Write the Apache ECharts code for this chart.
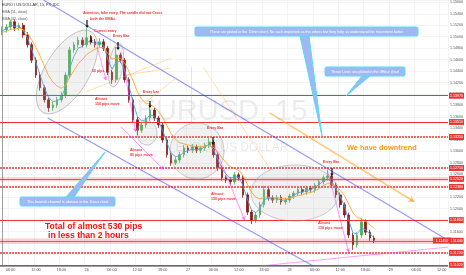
<!DOCTYPE html>
<html><head><meta charset="utf-8">
<script src="https://cdn.jsdelivr.net/npm/echarts@6/dist/echarts.min.js"></script>
<style>html,body{margin:0;padding:0;background:#fff}#c{width:466px;height:275px}</style>
</head><body><div id="c"></div>
<script>
// ---- DATA (hourly bars, EUR/USD) ----
const startDay = 25, startHour = 4, numSlots = 106;
const openP = [1.1508,1.1512,1.1517,1.1526,1.1515,1.1520,1.1503,1.1486,1.1459,1.1433,
 1.1411,1.1390,1.1376,1.1381,1.1390,1.1398,1.1433,1.1477,1.1486,1.1494,
 1.1486,1.1498,1.1491,1.1486,1.1491,1.1480,1.1438,1.1425,1.1468,1.1459,
 1.1425,1.1390,1.1355,1.1337,1.1346,1.1358,1.1372,1.1358,1.1346,1.1320,
 1.1294,1.1280,1.1285,1.1294,1.1306,1.1302,1.1308,1.1302,1.1306,1.1311,
 1.1316,1.1294,1.1271,1.1254,1.1250,1.1247,1.1259,1.1254,1.1224,1.1194,
 1.1180,1.1189,1.1207,1.1233,1.1219,1.1215,1.1220,1.1212,1.1215,1.1222,
 1.1227,1.1233,1.1229,1.1236,1.1233,1.1241,1.1247,1.1254,1.1257,1.1241,
 1.1224,1.1207,1.1189,1.1154,1.1137,1.1154,1.1177,1.1159,1.1149];
const closeP = [1.1512,1.1517,1.1526,1.1515,1.1520,1.1503,1.1486,1.1459,1.1433,1.1411,
 1.1390,1.1376,1.1381,1.1390,1.1398,1.1433,1.1477,1.1486,1.1494,1.1486,
 1.1498,1.1491,1.1486,1.1491,1.1480,1.1438,1.1425,1.1468,1.1459,1.1425,
 1.1390,1.1355,1.1337,1.1346,1.1358,1.1372,1.1358,1.1346,1.1320,1.1294,
 1.1280,1.1285,1.1294,1.1306,1.1302,1.1308,1.1302,1.1306,1.1311,1.1316,
 1.1294,1.1271,1.1254,1.1250,1.1247,1.1259,1.1254,1.1224,1.1194,1.1180,
 1.1189,1.1207,1.1233,1.1219,1.1215,1.1220,1.1212,1.1215,1.1222,1.1227,
 1.1233,1.1229,1.1236,1.1233,1.1241,1.1247,1.1254,1.1257,1.1241,1.1224,
 1.1207,1.1189,1.1154,1.1137,1.1154,1.1177,1.1159,1.1149,1.1145];
const highP = [1.1518,1.1522,1.1530,1.1530,1.1524,1.1524,1.1508,1.1490,1.1464,1.1438,
 1.1415,1.1394,1.1387,1.1395,1.1404,1.1438,1.1482,1.1491,1.1500,1.1499,
 1.1515,1.1503,1.1496,1.1497,1.1496,1.1484,1.1442,1.1482,1.1472,1.1463,
 1.1429,1.1394,1.1360,1.1351,1.1363,1.1384,1.1376,1.1362,1.1350,1.1324,
 1.1298,1.1290,1.1299,1.1311,1.1310,1.1313,1.1312,1.1310,1.1315,1.1323,
 1.1319,1.1298,1.1275,1.1258,1.1255,1.1264,1.1263,1.1258,1.1228,1.1198,
 1.1194,1.1212,1.1240,1.1237,1.1223,1.1224,1.1224,1.1219,1.1226,1.1231,
 1.1237,1.1237,1.1240,1.1240,1.1245,1.1251,1.1258,1.1268,1.1261,1.1245,
 1.1228,1.1211,1.1193,1.1158,1.1159,1.1182,1.1181,1.1163,1.1153];
const lowP = [1.1503,1.1507,1.1512,1.1510,1.1511,1.1498,1.1481,1.1454,1.1428,1.1406,
 1.1385,1.1369,1.1371,1.1376,1.1385,1.1393,1.1428,1.1472,1.1481,1.1481,
 1.1481,1.1486,1.1481,1.1481,1.1475,1.1433,1.1418,1.1420,1.1454,1.1420,
 1.1385,1.1350,1.1328,1.1332,1.1341,1.1353,1.1353,1.1341,1.1315,1.1289,
 1.1275,1.1276,1.1280,1.1289,1.1297,1.1297,1.1297,1.1297,1.1301,1.1306,
 1.1289,1.1266,1.1249,1.1245,1.1242,1.1242,1.1249,1.1219,1.1189,1.1173,
 1.1175,1.1184,1.1202,1.1214,1.1210,1.1210,1.1207,1.1207,1.1210,1.1217,
 1.1222,1.1224,1.1224,1.1228,1.1228,1.1236,1.1242,1.1249,1.1236,1.1219,
 1.1202,1.1184,1.1149,1.1128,1.1132,1.1149,1.1154,1.1144,1.1140];
const emaFast = [1.1510,1.1514,1.1520,1.1518,1.1519,1.1511,1.1498,1.1478,1.1455,1.1433,
 1.1411,1.1394,1.1387,1.1388,1.1393,1.1413,1.1445,1.1466,1.1480,1.1483,
 1.1491,1.1491,1.1488,1.1490,1.1485,1.1461,1.1443,1.1456,1.1457,1.1441,
 1.1415,1.1385,1.1361,1.1353,1.1355,1.1364,1.1361,1.1353,1.1336,1.1315,
 1.1297,1.1291,1.1292,1.1299,1.1301,1.1304,1.1303,1.1304,1.1308,1.1312,
 1.1303,1.1287,1.1270,1.1260,1.1253,1.1256,1.1255,1.1240,1.1217,1.1198,
 1.1193,1.1200,1.1216,1.1218,1.1216,1.1218,1.1215,1.1215,1.1218,1.1223,
 1.1228,1.1229,1.1232,1.1233,1.1237,1.1242,1.1248,1.1252,1.1247,1.1235,
 1.1221,1.1205,1.1180,1.1158,1.1156,1.1166,1.1163,1.1156,1.1150];
const emaSlow = [1.1508,1.1509,1.1513,1.1513,1.1515,1.1512,1.1506,1.1495,1.1481,1.1466,
 1.1449,1.1432,1.1421,1.1414,1.1410,1.1415,1.1429,1.1441,1.1453,1.1460,
 1.1469,1.1474,1.1478,1.1481,1.1481,1.1471,1.1461,1.1463,1.1462,1.1454,
 1.1440,1.1423,1.1404,1.1391,1.1384,1.1382,1.1377,1.1370,1.1359,1.1345,
 1.1331,1.1321,1.1315,1.1313,1.1311,1.1310,1.1308,1.1308,1.1309,1.1310,
 1.1307,1.1299,1.1289,1.1280,1.1273,1.1270,1.1267,1.1258,1.1243,1.1229,
 1.1220,1.1217,1.1220,1.1220,1.1219,1.1219,1.1218,1.1217,1.1218,1.1220,
 1.1223,1.1224,1.1227,1.1228,1.1231,1.1235,1.1240,1.1244,1.1243,1.1239,
 1.1232,1.1223,1.1208,1.1193,1.1184,1.1183,1.1178,1.1172,1.1166];
// horizontal levels
const solidLevels = [1.1397, 1.1351, 1.1180, 1.1102];
const dashedLevels = [1.1325, 1.1271, 1.1238, 1.1123];
const bandLevels = [1.1252, 1.1144];
const bandRanges = [[1.1255, 1.1248], [1.1148, 1.1139]];
const lastPrice = 1.1145;
// trend lines [barIndex, price] pairs
const blueLines = [[[9.8, 1.1564], [105.5, 1.1145]], [[10.8, 1.1358], [73.6, 1.1100]]];
const magentaArrows = [
  [[22.5, 1.1482], [24.6, 1.1424]],
  [[28.1, 1.1473], [31.6, 1.1334]],
  [[28.1, 1.1343], [38.2, 1.1268]],
  [[49.9, 1.1315], [57.4, 1.1180]],
  [[77.1, 1.1264], [82.0, 1.1124]]];
const magentaLines = [[[60.9, 1.1100], [105.5, 1.1133]]];
const orangeLines = [
  [[40.1, 1.1463], [19.9, 1.1404]],
  [[39.8, 1.1445], [29.3, 1.1433]],
  [[41.2, 1.1428], [33.5, 1.1383]],
  [[44.8, 1.1447], [44.8, 1.1351]],
  [[47.6, 1.1447], [63.5, 1.1268]]];
const trendArrow = [[[63.3, 1.1367], [97.5, 1.1212]]];

// ---- BUILD ----
const categories = [];
for (let i = 0; i < numSlots; i++) {
  const t = startHour + i;
  categories.push({d: startDay + Math.floor(t / 24), h: t % 24});
}
const catNames = categories.map(c => c.d + ' ' + (c.h < 10 ? '0' : '') + c.h + ':00');
const showTick = (i) => categories[i].h % 6 === 0;
const candles = openP.map((o, i) => [o, closeP[i], lowP[i], highP[i]]);

const chart = echarts.init(document.getElementById('c'), null, {renderer: 'canvas'});
const RED = '#f23030';
const lvlLabel = {show: true, position: 'end', distance: 1, backgroundColor: '#e53935', color: '#fff',
  fontSize: 3.6, padding: [1, 1], formatter: p => Number(p.value).toFixed(5), fontFamily: 'Liberation Sans'};
const markLineData = [];
solidLevels.forEach(v => markLineData.push({yAxis: v, lineStyle: {color: RED, width: 1, type: 'solid'}}));
dashedLevels.forEach(v => markLineData.push({yAxis: v, lineStyle: {color: RED, width: 1.6, type: [2, 1]}}));
bandLevels.forEach(v => markLineData.push({yAxis: v, lineStyle: {color: RED, width: 0.8, type: 'solid'}}));

function seg(list, color, width) {
  return list.map(s => ({coords: s, lineStyle: {color: color, width: width}}));
}

const T = (x, y, text, o) => Object.assign({type: 'text', x: x, y: y, z: 100,
  style: Object.assign({text: text, fill: RED, fontSize: 3.6, fontWeight: 'bold',
  fontFamily: 'Liberation Sans', verticalAlign: 'middle'}, o || {})});
const DownArrow = (cx, y0, y1) => ({type: 'polygon', z: 100, shape: {points: [
  [cx - 0.6, y0], [cx + 0.6, y0], [cx + 0.6, y1 - 2.5], [cx + 1.8, y1 - 2.5], [cx, y1],
  [cx - 1.8, y1 - 2.5], [cx - 0.6, y1 - 2.5]]}, style: {fill: '#111'}});
const Ell = (x, y, rx, ry, rot) => ({type: 'ellipse', x: x, y: y, rotation: rot || 0, z: 90,
  shape: {cx: 0, cy: 0, rx: rx, ry: ry},
  style: {fill: 'rgba(170,170,170,0.16)', stroke: 'rgba(140,140,140,0.75)', lineWidth: 0.6}});
const Callout = (x, y, w, h, text, tri) => ([
  {type: 'polygon', z: 95, shape: {points: tri}, style: {fill: '#9fb8f3', stroke: '#56dcf0', lineWidth: 1}},
  {type: 'rect', z: 96, shape: {x: x, y: y, width: w, height: h, r: 1.5},
    style: {fill: '#9fb8f3', stroke: '#56dcf0', lineWidth: 1}},
  {type: 'text', z: 97, x: x + w / 2, y: y + h / 2, style: {text: text, fill: '#fff', fontSize: 3.7,
    fontFamily: 'Liberation Sans', align: 'center', verticalAlign: 'middle'}}
]);

const graphics = [
  {type: 'text', x: 222, y: 112, z: 0, style: {text: 'EURUSD, 15', fill: 'rgba(0,0,0,0.08)', fontSize: 29,
    fontFamily: 'Liberation Sans', align: 'center', verticalAlign: 'middle'}},
  {type: 'text', x: 232, y: 148, z: 0, style: {text: 'EURO / US DOLLAR', fill: 'rgba(0,0,0,0.09)', fontSize: 12,
    fontFamily: 'Liberation Sans', align: 'center', verticalAlign: 'middle'}},
  T(2, 5, 'EURO / US DOLLAR, 15, FX_IDC', {fill: '#333', fontWeight: 'normal', fontSize: 3.8}),
  T(2, 12, 'EMA (11, close)', {fill: '#555', fontWeight: 'normal', fontSize: 3.6}),
  T(2, 18.5, 'EMA (32, close)', {fill: '#555', fontWeight: 'normal', fontSize: 3.6}),
  Ell(67, 72, 22, 47, -0.54), Ell(116, 65, 7, 22, -0.15), Ell(147, 133, 10, 12, 0),
  Ell(197, 151, 27, 28, 0), Ell(295, 193, 44, 28, 0),
  T(83, 13, 'Attention, fake entry. The candle did not Cross'),
  T(90, 18.5, 'both the EMAs'),
  T(94, 31, 'Correct entry'),
  T(113, 36, 'Entry Bar'),
  T(92, 71, '50 pips'),
  T(143, 92, 'Entry bar'),
  T(95, 99, 'Almost'), T(95, 104, '150 pips move'),
  T(130, 150, 'Almost'), T(130, 155, '80 pips move'),
  T(207, 128, 'Entry Bar'),
  T(211, 194, 'Almost'), T(211, 199, '130 pips move'),
  T(323, 162, 'Entry Bar'),
  T(318, 223, 'Almost'), T(318, 228, '130 pips move'),
  DownArrow(87, 20, 28), DownArrow(91, 36, 43), DownArrow(118, 42, 50),
  DownArrow(150, 101, 108), DownArrow(213, 137, 145), DownArrow(332, 168, 176),
  T(45, 227, 'Total of almost 530 pips', {fontSize: 8.6, fill: '#ff1010'}),
  T(48, 236, 'in less than 2 hours', {fontSize: 8.6, fill: '#ff1010'}),
  T(347, 148, 'We have downtrend', {fontSize: 7.4, fill: '#ff9a10'}),
  ...Callout(195, 27, 223, 9, 'These are ploted in the 15min chart. No such important as the others but they help us understand the movement better',
    [[300, 36], [309, 36], [322, 136]]),
  ...Callout(325, 67, 80, 9, 'These Lines are ploted in the 4Hour chart', [[362, 76], [370, 76], [346, 96]]),
  ...Callout(20, 197, 95, 9, 'This bearish channel is obvious in the 1hour chart', [[66, 197], [74, 197], [105, 152]]),
  {type: 'rect', z: 98, shape: {x: 433, y: 237.5, width: 18, height: 6}, style: {fill: '#e53935'}},
  {type: 'text', z: 99, x: 442, y: 240.5, style: {text: lastPrice.toFixed(5), fill: '#fff', fontSize: 3.6,
    fontFamily: 'Liberation Sans', align: 'center', verticalAlign: 'middle'}}
];

chart.setOption({
  animation: false,
  backgroundColor: '#fff',
  grid: {left: 0, right: 14, top: 0, bottom: 9},
  xAxis: [{
    type: 'category', data: catNames, boundaryGap: true,
    axisLine: {lineStyle: {color: '#888', width: 0.8}}, axisTick: {show: false},
    axisLabel: {interval: (i) => showTick(i), fontSize: 3.8, color: '#555', margin: 2,
      fontFamily: 'Liberation Sans',
      formatter: (v, i) => { const c = categories[i]; return c.h === 0 ? String(c.d) : (c.h < 10 ? '0' : '') + c.h + ':00'; }},
    splitLine: {show: true, interval: (i) => showTick(i), lineStyle: {color: '#f1f1f1', width: 0.8}}
  }, {type: 'value', min: -0.5, max: numSlots - 0.5, show: false}],
  yAxis: {
    type: 'value', position: 'right', min: 1.11, max: 1.1564, interval: 0.002, scale: true,
    axisLine: {show: true, lineStyle: {color: '#888', width: 0.8}}, axisTick: {show: false},
    axisLabel: {fontSize: 3.6, color: '#555', margin: 2, showMaxLabel: false, showMinLabel: false,
      fontFamily: 'Liberation Sans', formatter: v => v.toFixed(5)},
    splitLine: {lineStyle: {color: '#f1f1f1', width: 0.8}}
  },
  series: [
    {type: 'candlestick', data: candles, barMaxWidth: 2.4, z: 3,
      itemStyle: {color: '#4caf50', color0: '#8b1c1c', borderColor: '#4caf50', borderColor0: '#8b1c1c', borderWidth: 0.8},
      markLine: {silent: true, symbol: 'none', precision: 5, data: markLineData, label: lvlLabel},
      markArea: {silent: true, itemStyle: {color: 'rgba(239,83,80,0.28)'},
        data: bandRanges.map(r => [{yAxis: r[0]}, {yAxis: r[1]}])}},
    {type: 'line', data: emaFast, symbol: 'none', z: 4, lineStyle: {color: '#4aa3e8', width: 0.9}},
    {type: 'line', data: emaSlow, symbol: 'none', z: 4, lineStyle: {color: '#ffa726', width: 0.9}},
    {type: 'lines', coordinateSystem: 'cartesian2d', xAxisIndex: 1, yAxisIndex: 0, z: 5, silent: true,
      symbol: 'none', data: [].concat(seg(blueLines, '#2f2ff5', 1.1), seg(magentaLines, '#ff40ff', 1),
        seg(orangeLines, '#ffb040', 0.8))},
    {type: 'lines', coordinateSystem: 'cartesian2d', xAxisIndex: 1, yAxisIndex: 0, z: 6, silent: true,
      symbol: ['none', 'arrow'], symbolSize: 4, data: seg(magentaArrows, '#ff30ff', 1)},
    {type: 'lines', coordinateSystem: 'cartesian2d', xAxisIndex: 1, yAxisIndex: 0, z: 6, silent: true,
      symbol: ['none', 'arrow'], symbolSize: 6, data: seg(trendArrow, '#ff9800', 1.6)}
  ],
  graphic: graphics
});
</script></body></html>
